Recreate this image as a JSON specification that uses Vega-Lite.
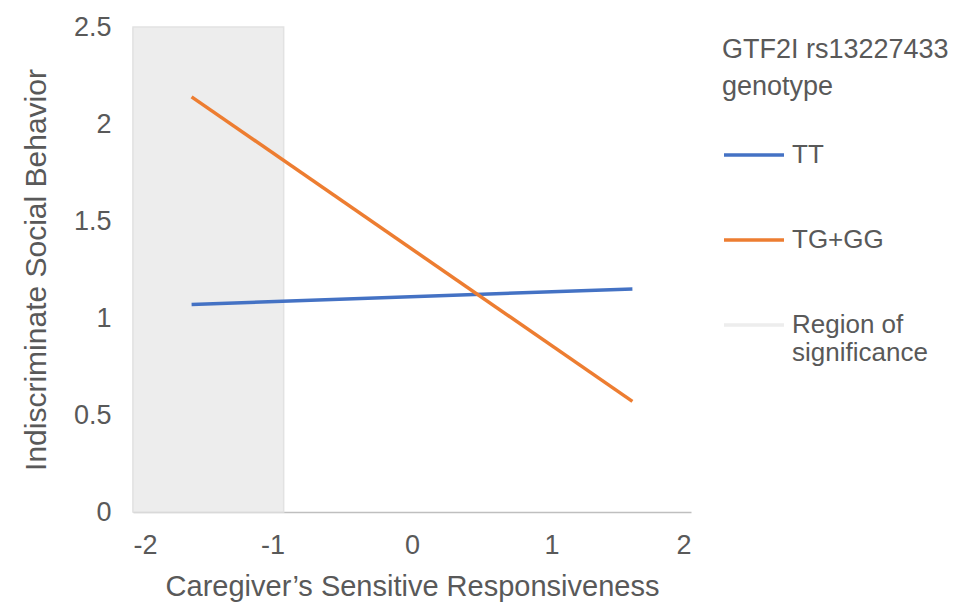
{
  "$schema": "https://vega.github.io/schema/vega-lite/v6.json",
  "width": 558,
  "height": 485,
  "autosize": {"type": "none"},
  "padding": {"left": 133, "top": 27, "right": 277, "bottom": 98},
  "background": "white",
  "config": {
    "view": {"stroke": null},
    "font": "Liberation Sans",
    "axis": {"labelColor": "#595959", "titleColor": "#595959", "labelFont": "Liberation Sans", "titleFont": "Liberation Sans", "titleFontWeight": "normal", "grid": false, "ticks": false, "domainColor": "#bfbfbf", "domainWidth": 1.5},
    "legend": {"labelColor": "#595959", "titleColor": "#595959", "titleFontWeight": "normal", "labelFont": "Liberation Sans", "titleFont": "Liberation Sans"}
  },
  "datasets": {
    "lines": [
      {"group": "TT", "x": -1.58, "y": 1.07},
      {"group": "TT", "x": 1.58, "y": 1.15},
      {"group": "TG+GG", "x": -1.58, "y": 2.14},
      {"group": "TG+GG", "x": 1.58, "y": 0.57}
    ],
    "region": [
      {"group": "Region of significance", "x": -2, "x2": -0.92, "y": 0, "y2": 2.5}
    ]
  },
  "encoding": {
    "x": {
      "field": "x", "type": "quantitative",
      "scale": {"domain": [-2, 2], "nice": false},
      "axis": {"title": "Caregiver’s Sensitive Responsiveness", "values": [-2, -1, 0, 1, 2], "labelExpr": "'' + datum.value", "labelFontSize": 27, "titleFontSize": 29, "labelPadding": 20, "titlePadding": 14}
    },
    "y": {
      "field": "y", "type": "quantitative",
      "scale": {"domain": [0, 2.5], "nice": false},
      "axis": {"title": "Indiscriminate Social Behavior", "values": [0, 0.5, 1, 1.5, 2, 2.5], "labelExpr": "'' + datum.value", "labelFontSize": 27, "titleFontSize": 30, "labelPadding": 22, "titlePadding": 22}
    },
    "color": {
      "field": "group", "type": "nominal",
      "scale": {"domain": ["TT", "TG+GG", "Region of significance"], "range": ["#4472C4", "#ED7D31", "#EDEDED"]},
      "legend": {
        "title": ["GTF2I rs13227433", "genotype"],
        "orient": "none",
        "legendX": 589,
        "legendY": 10,
        "titleFontSize": 27,
        "titleLineHeight": 37,
        "titleLimit": 400,
        "titlePadding": 22,
        "labelFontSize": 26,
        "labelLineHeight": 34,
        "labelExpr": "datum.label == 'Region of significance' ? ['Region of', 'significance'] : datum.label",
        "symbolType": "stroke",
        "symbolSize": 3600,
        "symbolStrokeWidth": 3.5,
        "rowPadding": 40,
        "labelOffset": 6,
        "labelLimit": 300
      }
    }
  },
  "layer": [
    {
      "data": {"name": "region"},
      "mark": {"type": "rect", "stroke": "#e2e2e2", "strokeWidth": 1.5},
      "encoding": {
        "x2": {"field": "x2"},
        "y2": {"field": "y2"}
      }
    },
    {
      "data": {"name": "lines"},
      "mark": {"type": "line", "strokeWidth": 3.5}
    }
  ]
}
